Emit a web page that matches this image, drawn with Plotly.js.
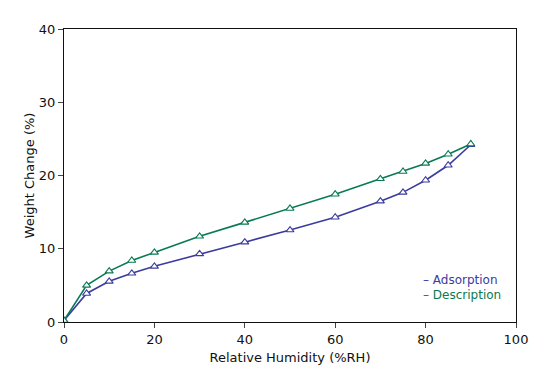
<!DOCTYPE html>
<html><head><meta charset="utf-8">
<script src="https://cdn.plot.ly/plotly-3.0.1.min.js"></script>
<style>html,body{margin:0;padding:0;background:#fff}#chart{width:546px;height:391px}</style>
</head><body><div id="chart"></div>
<script>
const humidity = [0, 5, 10, 15, 20, 30, 40, 50, 60, 70, 75, 80, 85, 90];
const adsorption = [0.2, 3.9, 5.55, 6.65, 7.6, 9.3, 10.9, 12.55, 14.3, 16.5, 17.7, 19.35, 21.4, 24.2];
const desorption = [0.2, 5.0, 6.95, 8.4, 9.5, 11.7, 13.6, 15.5, 17.45, 19.55, 20.55, 21.65, 22.9, 24.3];
const seriesNames = ["Adsorption", "Description"];
const colors = ["#3b3b9e", "#087a52"];
const font = "DejaVu Sans, sans-serif";

const traces = [
  {x: humidity, y: adsorption, name: seriesNames[0], mode: "lines+markers",
   line: {color: colors[0], width: 1.6}, marker: {symbol: "triangle-up", size: 7, color: "#ffffff", line: {width: 1.1, color: colors[0]}}},
  {x: humidity, y: desorption, name: seriesNames[1], mode: "lines+markers",
   line: {color: colors[1], width: 1.6}, marker: {symbol: "triangle-up", size: 7, color: "#ffffff", line: {width: 1.1, color: colors[1]}}}
];

const layout = {
  width: 546, height: 391,
  margin: {l: 64, r: 30, t: 29, b: 69},
  paper_bgcolor: "#fff", plot_bgcolor: "#fff",
  showlegend: false,
  font: {family: font, size: 13, color: "#111"},
  xaxis: {range: [0, 100], tickvals: [0, 20, 40, 60, 80, 100], ticks: "outside", ticklen: 5, tickwidth: 1,
    showline: true, linecolor: "#111", linewidth: 1.2, mirror: true, showgrid: false, zeroline: false,
    title: {text: "Relative Humidity (%RH)", font: {size: 13}, standoff: 7}},
  yaxis: {range: [0, 40], tickvals: [0, 10, 20, 30, 40], ticks: "outside", ticklen: 5, tickwidth: 1,
    showline: true, linecolor: "#111", linewidth: 1.2, mirror: true, showgrid: false, zeroline: false,
    title: {text: "Weight Change (%)", font: {size: 13}, standoff: 1}},
  annotations: seriesNames.map((n, i) => ({
    xref: "paper", yref: "paper", x: 0.79, y: 0.142 - i * 0.051, xanchor: "left", yanchor: "middle",
    text: "– " + n, showarrow: false, font: {family: font, size: 12, color: colors[i]}
  }))
};
Plotly.newPlot("chart", traces, layout, {displayModeBar: false, staticPlot: true});
</script></body></html>
